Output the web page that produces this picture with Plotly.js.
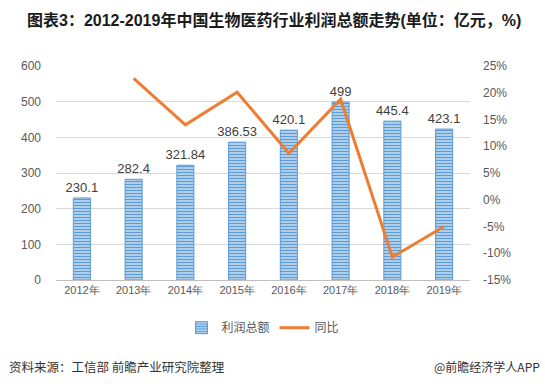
<!DOCTYPE html>
<html>
<head>
<meta charset="utf-8">
<script src="https://cdn.plot.ly/plotly-3.0.1.min.js"></script>
<style>
html,body{margin:0;padding:0;background:#fff;}
#chart{width:545px;height:387px;}
</style>
</head>
<body>
<div id="chart"></div>
<script>
const years = ["2012年","2013年","2014年","2015年","2016年","2017年","2018年","2019年"];
const profit = [230.1, 282.4, 321.84, 386.53, 420.1, 499, 445.4, 423.1];
const profitLabels = ["230.1","282.4","321.84","386.53","420.1","499","445.4","423.1"];
const growthYears = ["2013年","2014年","2015年","2016年","2017年","2018年","2019年"];
const growth = [22.7, 14.0, 20.1, 8.7, 18.8, -10.7, -5.0];
const leftTicks = [0,100,200,300,400,500,600];
const rightTicks = [-15,-10,-5,0,5,10,15,20,25];
const rightTickLabels = ["-15%","-10%","-5%","0%","5%","10%","15%","20%","25%"];

const cjk = '"Noto Sans CJK SC", "Noto Sans", Arial, sans-serif';
const arial = 'Arial, "Liberation Sans", sans-serif';
const traces = [
  {
    type: 'bar', name: '利润总额', x: years, y: profit,
    text: profitLabels, textposition: 'outside', cliponaxis: false, constraintext: 'none',
    textfont: {family: arial, size: 13, color: '#404040'},
    marker: {
      color: '#5B9BD5',
      line: {color: '#5B9BD5', width: 1},
      pattern: {shape: '-', fgcolor: '#5B9BD5', bgcolor: '#D6E6F5', size: 3, solidity: 0.55}
    },
    width: 0.33,
    hoverinfo: 'none'
  },
  {
    type: 'scatter', mode: 'lines', name: '同比', x: growthYears, y: growth,
    yaxis: 'y2', line: {color: '#ED7D31', width: 3}, hoverinfo: 'none'
  }
];

const layout = {
  width: 545, height: 387,
  margin: {l: 56, r: 75, t: 66, b: 107},
  paper_bgcolor: '#fff', plot_bgcolor: '#fff',
  font: {family: cjk, color: '#595959', size: 12},
  title: {
    text: '<b>图表3：2012-2019年中国生物医药行业利润总额走势(单位：亿元，%)</b>',
    xref: 'container', yref: 'container', x: 27/545, xanchor: 'left', y: 1 - 20/387, yanchor: 'middle',
    font: {family: '"Liberation Sans", Arial, "Noto Sans CJK SC", sans-serif', size: 16, color: '#1a1a1a'}
  },
  showlegend: true,
  legend: {orientation: 'h', x: 0.5, xanchor: 'center', y: -0.155, yanchor: 'top',
           font: {family: cjk, size: 12, color: '#595959'}, traceorder: 'normal'},
  xaxis: {
    type: 'category', showgrid: false, showline: true, linecolor: '#BFBFBF', linewidth: 1,
    ticks: '', tickfont: {family: arial, size: 11, color: '#595959'},
    fixedrange: true
  },
  yaxis: {
    range: [0, 600], tickvals: leftTicks, showgrid: true, gridcolor: '#D9D9D9',
    zeroline: false, showline: false, ticks: '',
    tickfont: {family: arial, size: 12, color: '#595959'},
    ticklabelstandoff: 14
  },
  yaxis2: {
    range: [-15, 25], tickvals: rightTicks, ticktext: rightTickLabels,
    overlaying: 'y', side: 'right', showgrid: false, zeroline: false, showline: false, ticks: '',
    tickfont: {family: arial, size: 12, color: '#595959'},
    ticklabelstandoff: 12
  },
  annotations: [
    {text: '资料来源：工信部 前瞻产业研究院整理', xref: 'paper', yref: 'paper',
     x: 0, xshift: -49, y: 0, yshift: -86, xanchor: 'left', yanchor: 'middle', showarrow: false,
     font: {family: cjk, size: 12.5, color: '#333'}},
    {text: '@前瞻经济学人APP', xref: 'paper', yref: 'paper',
     x: 1, xshift: 72, y: 0, yshift: -86, xanchor: 'right', yanchor: 'middle', showarrow: false,
     font: {family: cjk, size: 12, color: '#333'}}
  ]
};

Plotly.newPlot('chart', traces, layout, {displayModeBar: false, staticPlot: true});
</script>
</body>
</html>
